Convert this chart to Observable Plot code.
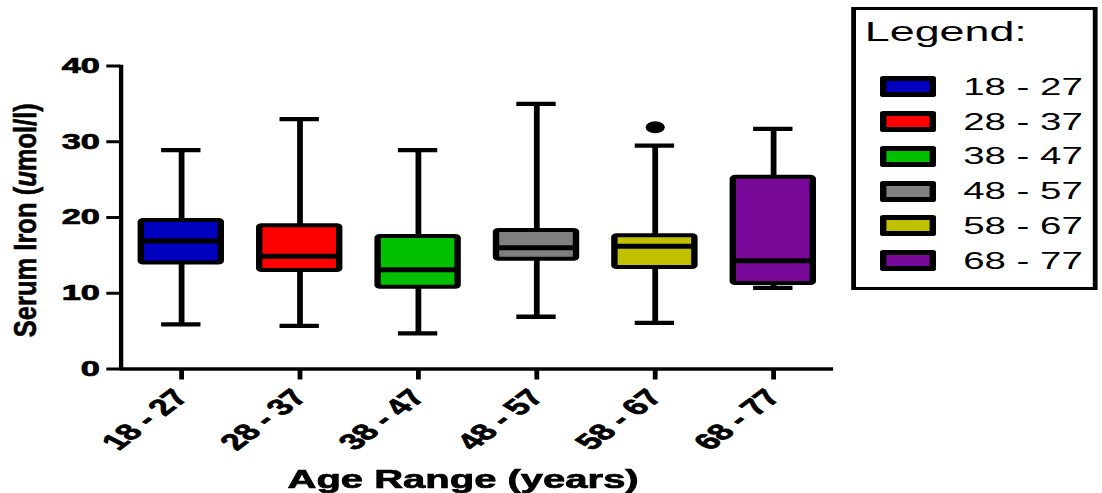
<!DOCTYPE html>
<html>
<head>
<meta charset="utf-8">
<script src="https://cdn.jsdelivr.net/npm/d3@7"></script>
<script src="https://cdn.jsdelivr.net/npm/@observablehq/plot@0.6"></script>
<style>
  html, body { margin: 0; padding: 0; background: white; }
  #wrap { position: relative; width: 689px; height: 493px; transform: scaleX(1.6); transform-origin: 0 0; font-family: "Liberation Sans", Arial, sans-serif; }
  #wrap svg { position: absolute; left: 0; top: 0; }
  .lg { position: absolute; color: black; white-space: nowrap; }
</style>
</head>
<body>
<div id="wrap"></div>
<script>
// ---- data ----
const categories = ["18 - 27", "28 - 37", "38 - 47", "48 - 57", "58 - 67", "68 - 77"];
const colors = ["#0000C0", "#FF0000", "#00C000", "#808080", "#C0C000", "#770898"];
const whiskerLow = [5.9, 5.7, 4.7, 6.9, 6.1, 10.7];
const q1 = [14.0, 13.0, 10.8, 14.5, 13.4, 11.3];
const median = [16.9, 14.9, 13.1, 16.0, 16.2, 14.3];
const q3 = [19.6, 18.9, 17.5, 18.3, 17.6, 25.3];
const whiskerHigh = [28.9, 33.0, 28.9, 35.0, 29.5, 31.7];
const outlierGroups = ["58 - 67"];
const outlierValues = [31.9];
const yTicks = [0, 10, 20, 30, 40];
const xTitle = "Age Range (years)";
const yTitle = "Serum Iron (umol/l)";
const legendTitle = "Legend:";

const rows = categories.map((g, i) => ({group: g, lo: whiskerLow[i], q1: q1[i], med: median[i], q3: q3[i], hi: whiskerHigh[i]}));
const outliers = outlierGroups.map((g, i) => ({group: g, value: outlierValues[i]}));

const W = 689;
const chart = Plot.plot({
  width: W,
  height: 493,
  marginLeft: 75.2,
  marginRight: W - 520.7,
  marginTop: 65.5,
  marginBottom: 124.5,
  style: {fontFamily: "'Liberation Sans', Arial, sans-serif", fontWeight: "bold", background: "white", color: "black", overflow: "visible"},
  x: {domain: categories, paddingInner: 0.33, paddingOuter: 0.165, label: null},
  y: {domain: [0, 40], label: null},
  color: {domain: categories, range: colors},
  marks: [
    Plot.ruleX(rows, {x: "group", y1: "lo", y2: "q1", stroke: "black", strokeWidth: 3.6}),
    Plot.ruleX(rows, {x: "group", y1: "q3", y2: "hi", stroke: "black", strokeWidth: 3.6}),
    Plot.tickY(rows, {x: "group", y: "lo", stroke: "black", strokeWidth: 4.3, insetLeft: 12.7, insetRight: 12.7}),
    Plot.tickY(rows, {x: "group", y: "hi", stroke: "black", strokeWidth: 4.3, insetLeft: 12.7, insetRight: 12.7}),
    Plot.barY(rows, {x: "group", y1: "q1", y2: "q3", fill: "group", stroke: "black", strokeWidth: 4, rx: 1.5}),
    Plot.tickY(rows, {x: "group", y: "med", stroke: "black", strokeWidth: 5}),
    Plot.dot(outliers, {x: "group", y: "value", r: 6, fill: "black", stroke: null}),
    Plot.ruleY([0], {stroke: "black", strokeWidth: 3.5}),
    Plot.frame({anchor: "left", stroke: "black", strokeWidth: 2.7}),
    Plot.axisY({ticks: yTicks, tickSize: 8.75, tickPadding: 4.5, fontSize: 21.5, fontWeight: "bold", strokeWidth: 3, label: null}),
    Plot.axisX({tickSize: 11, tickPadding: 13, tickRotate: -50, fontSize: 22.5, fontWeight: "bold", strokeWidth: 3, label: null}),
    Plot.text([xTitle], {text: d => d, frameAnchor: "bottom", lineAnchor: "bottom", dy: 118.5, dx: -9, fontSize: 25, fontWeight: "bold"}),
    Plot.text([yTitle], {text: d => d, frameAnchor: "left", rotate: -90, dx: -59.6, dy: 2.7, fontSize: 20, fontWeight: "bold"})
  ]
});

// heavier strokes on all chart text, like the reference
d3.select(chart).selectAll("text").attr("stroke", "black").attr("stroke-width", 0.7).attr("paint-order", "stroke");

// y title: italic "u" and condensed length like the reference
d3.select(chart).selectAll("text").filter(function() { return this.textContent === yTitle; }).each(function() {
  const t = d3.select(this);
  t.text(null);
  t.append("tspan").text("Serum Iron (");
  t.append("tspan").attr("font-style", "italic").text("u");
  t.append("tspan").text("mol/l)");
  t.attr("text-anchor", "start").attr("x", -117).attr("textLength", 234).attr("lengthAdjust", "spacingAndGlyphs").attr("stroke-width", 0.4);
});

const wrap = document.getElementById("wrap");
wrap.appendChild(chart);

// ---- legend (HTML) ----
const box = document.createElement("div");
box.className = "lg";
Object.assign(box.style, {left: "532.3px", top: "7.3px", width: "154px", height: "282.7px", border: "3.5px solid black", boxSizing: "border-box", background: "white"});
wrap.appendChild(box);

const title = document.createElement("div");
title.className = "lg";
title.textContent = legendTitle;
Object.assign(title.style, {left: "540.5px", top: "18px", fontSize: "28px", lineHeight: "28px"});
wrap.appendChild(title);

categories.forEach((c, i) => {
  const cy = 86.7 + i * 34.8;
  const sw = document.createElement("div");
  sw.className = "lg";
  Object.assign(sw.style, {left: "549.6px", top: (cy - 10.5) + "px", width: "35.6px", height: "21px", boxSizing: "border-box", borderStyle: "solid", borderColor: "black", borderWidth: "5px 4px", borderRadius: "2px", background: colors[i]});
  wrap.appendChild(sw);
  const lab = document.createElement("div");
  lab.className = "lg";
  lab.textContent = c;
  Object.assign(lab.style, {left: "602px", top: (cy - 12) + "px", fontSize: "24px", lineHeight: "24px"});
  wrap.appendChild(lab);
});
</script>
</body>
</html>
